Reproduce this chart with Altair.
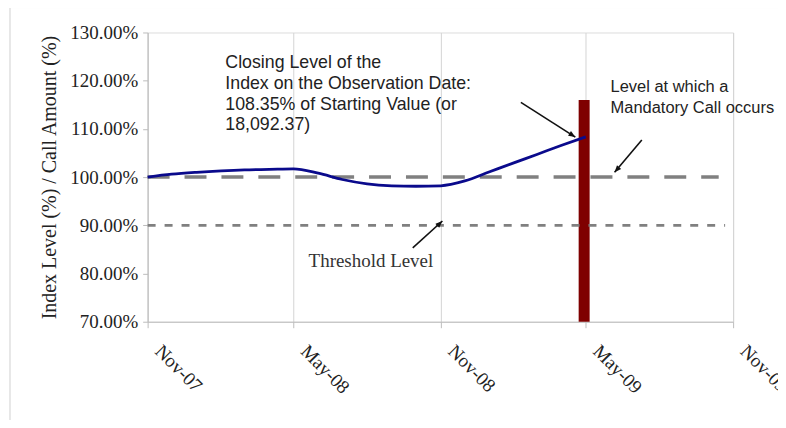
import altair as alt
import pandas as pd

# ---- data ----
line_dates = ["2007-11-01", "2007-12-01", "2008-01-01", "2008-02-01", "2008-03-01",
              "2008-04-01", "2008-05-01", "2008-06-01", "2008-07-01", "2008-08-01",
              "2008-09-01", "2008-10-01", "2008-11-01", "2008-12-01", "2009-01-01",
              "2009-02-01", "2009-03-01", "2009-04-01", "2009-05-01"]
line_values = [1.000, 1.006, 1.010, 1.013, 1.015, 1.016, 1.017, 1.008, 0.995, 0.986,
               0.982, 0.981, 0.982, 0.992, 1.011, 1.030, 1.047, 1.066, 1.0835]

call_date = ["2009-04-29"]
call_value = [1.16]
axis_floor = 0.70

ref_start = ["2007-11-01", "2007-11-01"]
ref_end = ["2009-10-14", "2009-10-22"]
ref_levels = [1.00, 0.90]
ref_names = ["Mandatory Call Level", "Threshold Level"]

tick_dates = ["2007-11-01", "2008-05-01", "2008-11-01", "2009-05-01", "2009-11-01"]

ann_text = ["Closing Level of the\nIndex on the Observation Date:\n108.35% of Starting Value (or\n18,092.37)",
            "Level at which a\nMandatory Call occurs"]
ann_date = ["2008-02-06", "2009-06-01"]
ann_value = [1.2257, 1.176]
ann_size = [17.8, 16.5]

thr_text = ["Threshold Level"]
thr_date = ["2008-05-20"]
thr_value = [0.8137]

arrow_from_date = ["2009-02-09", "2009-07-10", "2008-09-27"]
arrow_from_value = [1.155, 1.077, 0.853]
arrow_to_date = ["2009-04-18", "2009-06-06", "2008-11-03"]
arrow_to_value = [1.083, 1.010, 0.909]
arrow_angle = [122, 221, 47]

# ---- frames ----
df_line = pd.DataFrame({"date": line_dates, "value": line_values})
df_bar = pd.DataFrame({"date": call_date, "value": call_value, "floor": [axis_floor]})
df_ref = pd.DataFrame({"start": ref_start, "end": ref_end, "level": ref_levels, "name": ref_names})
df_ann = pd.DataFrame({"date": ann_date, "value": ann_value, "text": ann_text, "fs": ann_size})
df_thr = pd.DataFrame({"date": thr_date, "value": thr_value, "text": thr_text})
df_arrow = pd.DataFrame({"d0": arrow_from_date, "v0": arrow_from_value,
                         "d1": arrow_to_date, "v1": arrow_to_value, "angle": arrow_angle})

SERIF = "Liberation Serif"
SANS = "Liberation Sans"

xscale = alt.Scale(type="utc", domain=[alt.DateTime(year=2007, month=11, date=1, utc=True),
                                       alt.DateTime(year=2009, month=11, date=1, utc=True)])
yscale = alt.Scale(domain=[0.7, 1.3], nice=False, zero=False)

x_axis = alt.Axis(
    values=[alt.DateTime(year=int(d[:4]), month=int(d[5:7]), date=1, utc=True) for d in tick_dates],
    format="%b-%y", labelAngle=45, labelAlign="left", labelBaseline="middle",
    labelFont=SERIF, labelFontSize=19, labelColor="#222222", labelPadding=20, labelOffset=10,
    grid=True, gridColor="#d4d4d4", gridWidth=1,
    domainColor="#bdbdbd", tickColor="#bdbdbd", tickSize=6, title=None,
    labelOverlap=False, labelFlush=False, labelBound=False,
)
y_axis = alt.Axis(
    values=[0.7, 0.8, 0.9, 1.0, 1.1, 1.2, 1.3], format=".2%",
    labelFont=SERIF, labelFontSize=19, labelColor="#222222", labelPadding=5,
    grid=False, domainColor="#bdbdbd", tickColor="#bdbdbd", tickSize=5,
    title="Index Level (%) / Call Amount (%)", titleFont=SERIF, titleFontSize=20,
    titleFontWeight="normal", titleColor="#222222", titlePadding=10,
)

X = lambda f: alt.X(f, type="temporal", scale=xscale, axis=x_axis)
Y = lambda f: alt.Y(f, type="quantitative", scale=yscale, axis=y_axis)

frame = alt.Chart(pd.DataFrame({"k": [0]})).mark_rect(
    fill=None, stroke="#d0d0d0", strokeWidth=1, clip=False
).encode(x=alt.value(-138), x2=alt.value(700), y=alt.value(-25), y2=alt.value(420))

bar = alt.Chart(df_bar).mark_rule(color="#7f0000", strokeWidth=11, strokeCap="butt").encode(
    x=X("date:T"), y=Y("value:Q"), y2="floor:Q"
)

refs = alt.Chart(df_ref).mark_rule(color="#808080").encode(
    x=X("start:T"), x2="end:T", y=Y("level:Q"),
    strokeDash=alt.StrokeDash("name:N", scale=alt.Scale(domain=ref_names, range=[[22, 15], [8, 9]]), legend=None),
    strokeWidth=alt.StrokeWidth("name:N", scale=alt.Scale(domain=ref_names, range=[3.5, 2.8]), legend=None),
)

line = alt.Chart(df_line).mark_line(color="#0a0a8c", strokeWidth=2.8, interpolate="monotone").encode(
    x=X("date:T"), y=Y("value:Q")
)

ann = alt.Chart(df_ann).mark_text(
    font=SANS, align="left", baseline="alphabetic", lineBreak="\n",
    lineHeight=20.7, color="#222222"
).encode(x=X("date:T"), y=Y("value:Q"), text="text:N",
         size=alt.Size("fs:Q", scale=None, legend=None))

thr = alt.Chart(df_thr).mark_text(
    font=SERIF, fontSize=19, align="left", baseline="alphabetic", color="#333333"
).encode(x=X("date:T"), y=Y("value:Q"), text="text:N")

arrow_lines = alt.Chart(df_arrow).mark_rule(color="#111111", strokeWidth=1.6).encode(
    x=X("d0:T"), y=Y("v0:Q"), x2="d1:T", y2="v1:Q"
)
arrow_heads = alt.Chart(df_arrow).mark_point(
    shape="M0,0L-0.4,1L0.4,1Z", filled=True, color="#111111", size=190, opacity=1
).encode(x=X("d1:T"), y=Y("v1:Q"), angle=alt.Angle("angle:Q", scale=None))

chart = alt.layer(frame, bar, refs, line, ann, thr, arrow_lines, arrow_heads).properties(
    width=587, height=290,
    autosize=alt.AutoSizeParams(type="none"),
    padding={"left": 140, "top": 24, "right": 45, "bottom": 98},
).configure_view(stroke=None).configure(background="white")

chart.save("out.html", embed_options={"renderer": "svg", "actions": False})
